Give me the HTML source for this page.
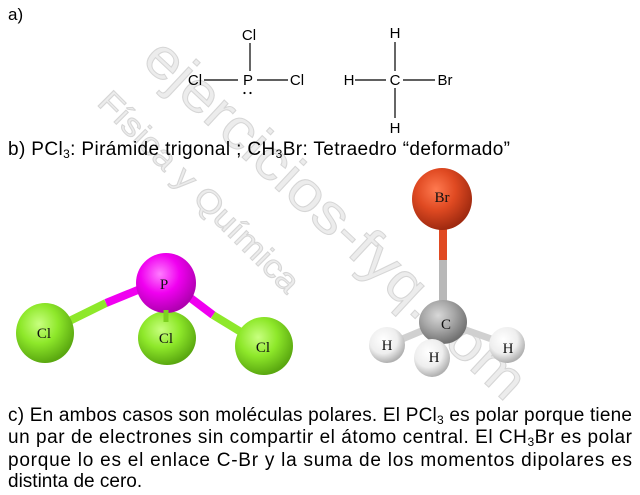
<!DOCTYPE html>
<html><head><meta charset="utf-8"><style>
html,body{margin:0;padding:0;background:#fff}
svg{display:block}
text{font-family:"Liberation Sans",Arial,sans-serif}
.ser{font-family:"Liberation Serif",serif}
</style></head><body>
<svg width="640" height="495" viewBox="0 0 640 495" xmlns="http://www.w3.org/2000/svg">
<defs>
<radialGradient id="gP" cx="0.4" cy="0.35" r="0.65"><stop offset="0" stop-color="#ff7cff"/><stop offset="0.5" stop-color="#f000f0"/><stop offset="1" stop-color="#b000b0"/></radialGradient>
<radialGradient id="gCl" cx="0.4" cy="0.35" r="0.65"><stop offset="0" stop-color="#c8ff80"/><stop offset="0.5" stop-color="#8ee82a"/><stop offset="1" stop-color="#5aa810"/></radialGradient>
<radialGradient id="gBr" cx="0.4" cy="0.35" r="0.65"><stop offset="0" stop-color="#ff7a50"/><stop offset="0.5" stop-color="#e04a22"/><stop offset="1" stop-color="#a02a10"/></radialGradient>
<radialGradient id="gC" cx="0.4" cy="0.35" r="0.65"><stop offset="0" stop-color="#d8d8d8"/><stop offset="0.5" stop-color="#a8a8a8"/><stop offset="1" stop-color="#707070"/></radialGradient>
<radialGradient id="gH" cx="0.4" cy="0.35" r="0.65"><stop offset="0" stop-color="#ffffff"/><stop offset="0.6" stop-color="#eeeeee"/><stop offset="1" stop-color="#b0b0b0"/></radialGradient>
</defs>

<!-- watermark -->
<g fill="#ececec" stroke="#d6d6d6" stroke-width="1">
<text x="0" y="0" font-size="56" transform="translate(140,62) rotate(43)" textLength="500" lengthAdjust="spacingAndGlyphs">ejercicios-fyq.com</text>
<text x="0" y="0" font-size="32" transform="translate(96,104) rotate(45)" textLength="270" lengthAdjust="spacingAndGlyphs">Física y Química</text>
</g>

<!-- a) -->
<text x="8" y="20" font-size="17">a)</text>
<g font-size="15" fill="#000">
<text x="249" y="40" text-anchor="middle">Cl</text>
<line x1="250" y1="43" x2="250" y2="71" stroke="#000" stroke-width="1.2"/>
<text x="195" y="85" text-anchor="middle">Cl</text>
<line x1="204" y1="80" x2="238" y2="80" stroke="#000" stroke-width="1.2"/>
<text x="248" y="85" text-anchor="middle">P</text>
<line x1="257" y1="80" x2="288" y2="80" stroke="#000" stroke-width="1.2"/>
<text x="297" y="85" text-anchor="middle">Cl</text>
<circle cx="244.5" cy="93" r="1.1"/><circle cx="250.5" cy="93" r="1.1"/>

<text x="395" y="38" text-anchor="middle">H</text>
<line x1="395" y1="42" x2="395" y2="71" stroke="#000" stroke-width="1.2"/>
<text x="349" y="85" text-anchor="middle">H</text>
<line x1="355" y1="80" x2="386" y2="80" stroke="#000" stroke-width="1.2"/>
<text x="395" y="85" text-anchor="middle">C</text>
<line x1="403" y1="80" x2="435" y2="80" stroke="#000" stroke-width="1.2"/>
<text x="445" y="85" text-anchor="middle">Br</text>
<line x1="395" y1="88" x2="395" y2="118" stroke="#000" stroke-width="1.2"/>
<text x="395" y="133" text-anchor="middle">H</text>
</g>

<!-- b) -->
<text x="8" y="155" font-size="19" textLength="502" lengthAdjust="spacing">b) PCl<tspan font-size="12" dy="3">3</tspan><tspan dy="-3">: Pirámide trigonal  ;  CH</tspan><tspan font-size="12" dy="3">3</tspan><tspan dy="-3">Br: Tetraedro “deformado”</tspan></text>

<!-- PCl3 model -->
<g stroke-linecap="butt">
<line x1="45" y1="333" x2="106" y2="303" stroke="#8ee82a" stroke-width="8"/>
<line x1="106" y1="303" x2="150" y2="285" stroke="#f000f0" stroke-width="8"/>
<line x1="180" y1="290" x2="213" y2="315" stroke="#f000f0" stroke-width="8"/>
<line x1="213" y1="315" x2="264" y2="346" stroke="#8ee82a" stroke-width="8"/>
</g>
<ellipse cx="45" cy="333" rx="29" ry="30" fill="url(#gCl)"/>
<ellipse cx="167" cy="338" rx="29" ry="27" fill="url(#gCl)"/>
<ellipse cx="166" cy="283" rx="30" ry="30" fill="url(#gP)"/>
<line x1="166" y1="310" x2="166" y2="322" stroke="#7cd020" stroke-width="5"/>
<ellipse cx="264" cy="346" rx="29" ry="29" fill="url(#gCl)"/>
<g font-size="15" fill="#111" text-anchor="middle">
<text x="164" y="289" class="ser">P</text>
<text x="44" y="338" class="ser">Cl</text>
<text x="166" y="343" class="ser">Cl</text>
<text x="263" y="352" class="ser">Cl</text>
</g>

<!-- CH3Br model -->
<rect x="439" y="225" width="8" height="35" fill="#e04a22"/>
<rect x="439" y="260" width="8" height="42" fill="#b8b8b8"/>
<ellipse cx="442" cy="199" rx="30" ry="31" fill="url(#gBr)"/>
<line x1="443" y1="322" x2="395" y2="342" stroke="#d0d0d0" stroke-width="7"/>
<line x1="443" y1="322" x2="500" y2="342" stroke="#d0d0d0" stroke-width="7"/>
<ellipse cx="443" cy="322" rx="24" ry="22" fill="url(#gC)"/>
<ellipse cx="387" cy="345" rx="18" ry="18" fill="url(#gH)"/>
<ellipse cx="432" cy="358" rx="18" ry="19" fill="url(#gH)"/>
<ellipse cx="507" cy="345" rx="18" ry="18" fill="url(#gH)"/>
<g font-size="15" fill="#111" text-anchor="middle">
<text x="442" y="202" class="ser">Br</text>
<text x="446" y="329" class="ser">C</text>
<text x="387" y="350" class="ser">H</text>
<text x="434" y="362" class="ser">H</text>
<text x="508" y="353" class="ser">H</text>
</g>

<!-- c) -->
<g font-size="19" fill="#000">
<text x="8" y="421" textLength="624" lengthAdjust="spacing">c) En ambos casos son moléculas polares. El PCl<tspan font-size="12" dy="3">3</tspan><tspan dy="-3"> es polar porque tiene</tspan></text>
<text x="8" y="443" textLength="624" lengthAdjust="spacing">un par de electrones sin compartir el átomo central. El CH<tspan font-size="12" dy="3">3</tspan><tspan dy="-3">Br es polar</tspan></text>
<text x="8" y="466" textLength="624" lengthAdjust="spacing">porque lo es el enlace C-Br y la suma de los momentos dipolares es</text>
<text x="8" y="487">distinta de cero.</text>
</g>
</svg>
</body></html>
